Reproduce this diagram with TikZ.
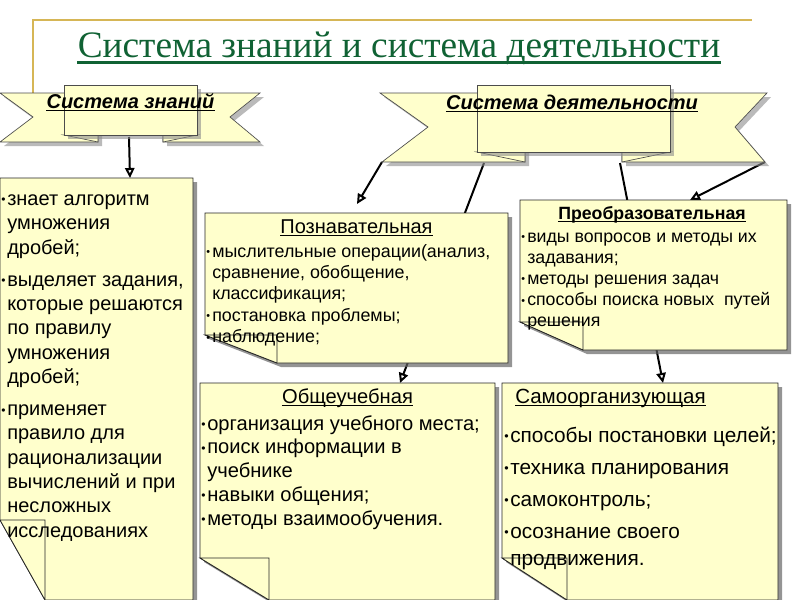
\documentclass[tikz,border=0pt]{standalone}
\usepackage{fontspec}
\setmainfont{Liberation Sans}
\newfontfamily\titlefont{Liberation Serif}
\usetikzlibrary{arrows.meta,shadows}
\definecolor{NoteFill}{RGB}{255,255,204}
\definecolor{TitleGreen}{RGB}{16,98,52}
\definecolor{RuleGold}{RGB}{214,182,86}
\newcommand{\bul}{\makebox[4.5pt][l]{\raisebox{0.08em}{\scalebox{0.6}{\textbullet}}}}
\newcommand{\ind}{\hspace*{4.5pt}}

\begin{document}
\begin{tikzpicture}[x=0.75pt, y=-0.75pt,
    note/.style={draw=black!85, line width=0.6pt, fill=NoteFill, drop shadow={shadow xshift=3pt, shadow yshift=-3pt, fill=black!60, opacity=0.7}},
    flap/.style={draw=black!85, line width=0.6pt, fill=NoteFill},
    ribbon/.style={draw=black!70, line width=0.5pt, fill=NoteFill, drop shadow={shadow xshift=3pt, shadow yshift=-3pt, fill=black!45, opacity=0.6}},
    fold/.style={draw=black!70, line width=0.5pt, fill=NoteFill},
    lab/.style={anchor=base, inner sep=0pt, font=\bfseries\itshape\fontsize{15}{18}\selectfont},
    head/.style={anchor=base, inner sep=0pt},
    body/.style={anchor=base west, inner sep=0pt, align=left},
    uline/.style={line width=0.7pt},
    arr/.style={-{Triangle[open, length=7.5pt, width=7pt]}, line width=1.5pt}
  ]
  \useasboundingbox (0,0) rectangle (800,600);

  % title
  \draw[RuleGold, line width=1.5pt] (33,110) -- (33,20) -- (752,20);
  \node[inner sep=0pt, anchor=base, text=TitleGreen, font=\titlefont\fontsize{28}{32}\selectfont] (title) at (399,57) {Система знаний и система деятельности};
  \draw[TitleGreen, line width=2.2pt] ([yshift=-3.8pt]title.base west) -- ([yshift=-3.8pt]title.base east);

  % connector ends
  \coordinate (zn-out) at (129,137);
  \coordinate (zn-in)  at (130,178);
  \coordinate (dt-ll)  at (382,162);
  \coordinate (dt-l)   at (484,163);
  \coordinate (dt-r)   at (620,163);
  \coordinate (dt-rr)  at (765,162);
  \coordinate (pz-in)  at (357,204);
  \coordinate (ob-in)  at (400,383);
  \coordinate (sa-in)  at (663,383);
  \coordinate (pr-in)  at (690,200);

  \draw[arr] (dt-l)   -- (ob-in);
  \draw[arr] (dt-r)   -- (sa-in);
  \draw[arr] (zn-out) -- (zn-in);
  \draw[arr] (dt-ll)  -- (pz-in);
  \draw[arr] (dt-rr)  -- (pr-in);

  % notes
  \path[note] (0,178) -- (193,178) -- (193,600) -- (45,600) -- (0,520) -- cycle;
  \path[flap] (0,520) -- (45,520) -- (45,600) -- cycle;
  \path[note] (205,213) -- (508,213) -- (508,363) -- (277,363) -- (205,335) -- cycle;
  \path[flap] (205,335) -- (277,335) -- (277,363) -- cycle;
  \path[note] (520,200) -- (787,200) -- (787,350) -- (583,350) -- (520,322) -- cycle;
  \path[flap] (520,322) -- (583,322) -- (583,350) -- cycle;
  \path[note] (200,383) -- (495,383) -- (495,600) -- (269,600) -- (200,558) -- cycle;
  \path[flap] (200,558) -- (269,558) -- (269,600) -- cycle;
  \path[note] (502,383) -- (778,383) -- (778,600) -- (567,600) -- (502,558) -- cycle;
  \path[flap] (502,558) -- (567,558) -- (567,600) -- cycle;

  % banner: knowledge
  \path[ribbon] (0,93) -- (98,93) -- (98,142) -- (0,142) -- (33,117) -- cycle;
  \path[ribbon] (163,93) -- (260,93) -- (230,117) -- (260,142) -- (163,142) -- cycle;
  \path[fold] (64,135) -- (98,142) -- (98,135) -- cycle;
  \path[fold] (163,135) -- (163,142) -- (197,135) -- cycle;
  \path[ribbon] (64,85) rectangle (197,135);
  \node[lab] (zn-lab) at (130.5,108) {Система знаний};

  % banner: activity
  \path[ribbon] (380,93) -- (525,93) -- (525,162) -- (382,162) -- (428,127) -- cycle;
  \path[ribbon] (622,93) -- (767,93) -- (735,127) -- (765,162) -- (622,162) -- cycle;
  \path[fold] (477,152) -- (525,162) -- (525,152) -- cycle;
  \path[fold] (622,152) -- (622,162) -- (670,152) -- cycle;
  \path[ribbon] (477,85) rectangle (670,152);
  \node[lab] (dt-lab) at (572,109) {Система деятельности};

  % note texts (placed by the baseline of their last line)
  \node[body, font=\fontsize{15}{18.2}\selectfont] (zn-txt) at (1,537)
    {\bul знает алгоритм\\ \ind умножения\\ \ind дробей;\\[6pt]
     \bul выделяет задания,\\ \ind которые решаются\\ \ind по правилу\\ \ind умножения\\ \ind дробей;\\[6pt]
     \bul применяет\\ \ind правило для\\ \ind рационализации\\ \ind вычислений и при\\ \ind несложных\\ \ind исследованиях};

  \node[head, font=\fontsize{15}{18}\selectfont] (pz-h) at (356.5,233) {Познавательная};
  \node[body, font=\fontsize{13.4}{16}\selectfont] (pz-txt) at (206,342.5)
    {\bul мыслительные операции(анализ,\\ \ind сравнение, обобщение,\\ \ind классификация;\\
     \bul постановка проблемы;\\ \bul наблюдение;};

  \node[head, font=\bfseries\fontsize{13.3}{16}\selectfont] (pr-h) at (652,219.5) {Преобразовательная};
  \node[body, font=\fontsize{13.3}{15.8}\selectfont] (pr-txt) at (521,326.5)
    {\bul виды вопросов и методы их\\ \ind задавания;\\ \bul методы решения задач\\
     \bul способы поиска новых \ путей\\ \ind решения};

  \node[head, font=\fontsize{15.1}{17.8}\selectfont] (ob-h) at (347.5,403) {Общеучебная};
  \node[body, font=\fontsize{15.1}{17.8}\selectfont] (ob-txt) at (201,525)
    {\bul организация учебного места;\\ \bul поиск информации в\\ \ind учебнике\\
     \bul навыки общения;\\ \bul методы взаимообучения.};

  \node[head, anchor=base west, font=\fontsize{15.4}{18}\selectfont] (sa-h) at (515,403) {Самоорганизующая};
  \node[body, font=\fontsize{15.6}{20}\selectfont] (sa-txt) at (504,565)
    {\bul способы постановки целей;\\[4pt] \bul техника планирования\\[4pt]
     \bul самоконтроль;\\[4pt] \bul осознание своего\\ \ind продвижения.};

  % underlines
  \foreach \n in {zn-lab,dt-lab,pz-h,pr-h,ob-h,sa-h}
    \draw[uline] ([yshift=-1.8pt]\n.base west) -- ([yshift=-1.8pt]\n.base east);
\end{tikzpicture}
\end{document}
